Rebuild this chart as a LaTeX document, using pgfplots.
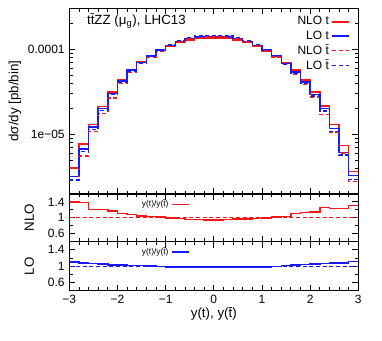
\documentclass[border=0pt]{standalone}
\usepackage{fontspec}
\setmainfont{Liberation Sans}
\usepackage{pgfplots}
\pgfplotsset{compat=1.18}
\usepackage{pgfplotstable}

\definecolor{gpred}{RGB}{255,20,20}
\definecolor{gpblue}{RGB}{25,25,255}

% bin left edges, last row repeats the last bin so the step reaches y=3
\pgfplotstableread{
x     nlot     lot      nlotb     lotb      rn    rl
-3.0  4.04e-6  3.22e-6  2.89e-6   2.93e-6   1.40  1.10
-2.8  7.76e-6  6.78e-6  5.62e-6   6.28e-6   1.38  1.08
-2.6  1.31e-5  1.22e-5  1.083e-5  1.14e-5   1.21  1.07
-2.4  2.14e-5  2.01e-5  1.77e-5   1.914e-5  1.21  1.05
-2.2  3.16e-5  3.02e-5  2.70e-5   2.93e-5   1.17  1.03
-2.0  4.42e-5  4.26e-5  3.98e-5   4.14e-5   1.11  1.03
-1.8  5.81e-5  5.70e-5  5.38e-5   5.59e-5   1.08  1.02
-1.6  7.15e-5  7.02e-5  6.81e-5   6.95e-5   1.05  1.01
-1.4  8.41e-5  8.41e-5  8.17e-5   8.41e-5   1.03  1.00
-1.2  9.64e-5  9.82e-5  9.45e-5   9.92e-5   1.02  0.99
-1.0  1.084e-4 1.11e-4  1.095e-4  1.133e-4  0.99  0.98
-0.8  1.20e-4  1.24e-4  1.224e-4  1.272e-4  0.98  0.975
-0.6  1.29e-4  1.34e-4  1.344e-4  1.374e-4  0.96  0.975
-0.4  1.35e-4  1.40e-4  1.406e-4  1.436e-4  0.96  0.975
-0.2  1.37e-4  1.42e-4  1.442e-4  1.456e-4  0.95  0.975
 0.0  1.37e-4  1.42e-4  1.442e-4  1.456e-4  0.95  0.975
 0.2  1.35e-4  1.40e-4  1.406e-4  1.436e-4  0.96  0.975
 0.4  1.29e-4  1.34e-4  1.330e-4  1.374e-4  0.97  0.975
 0.6  1.20e-4  1.24e-4  1.231e-4  1.272e-4  0.975 0.975
 0.8  1.08e-4  1.11e-4  1.102e-4  1.138e-4  0.98  0.975
 1.0  9.6e-5   9.8e-5   9.70e-5   1.0e-4    0.99  0.98
 1.2  8.34e-5  8.4e-5   8.18e-5   8.48e-5   1.02  0.99
 1.4  6.90e-5  6.78e-5  6.70e-5   6.71e-5   1.03  1.01
 1.6  5.70e-5  5.44e-5  5.14e-5   5.31e-5   1.11  1.025
 1.8  4.35e-5  4.15e-5  3.85e-5   3.99e-5   1.13  1.04
 2.0  3.16e-5  2.96e-5  2.75e-5   2.82e-5   1.15  1.05
 2.2  2.16e-5  2.01e-5  1.71e-5   1.88e-5   1.26  1.07
 2.4  1.31e-5  1.17e-5  1.065e-5  1.088e-5  1.23  1.075
 2.6  7.41e-6  6.18e-6  6.02e-6   5.72e-6   1.23  1.08
 2.8  3.69e-6  3.3e-6   2.82e-6   2.95e-6   1.31  1.12
 3.0  3.69e-6  3.3e-6   2.82e-6   2.95e-6   1.31  1.12
}\ydist

\pgfplotsset{
  gp/.style={
    scale only axis, width=216.75pt,
    xmin=-3, xmax=3, xtick={-3,...,3}, minor x tick num=4,
    tick align=inside, major tick length=4.5pt, minor tick length=2.5pt,
    axis line style={line width=0.9pt},
    every tick/.style={black, line width=0.6pt},
    tick label style={font=\fontsize{9}{9}\selectfont},
    label style={font=\fontsize{10}{10}\selectfont},
    /pgf/number format/assume math mode=true,
    legend plot pos=right, legend cell align=right,
    legend image code/.code={\draw[##1] (0pt,0pt) -- (12.5pt,0pt);},
  },
  hist/.style={const plot mark left, no marks, line width=1.1pt},
  dsh/.style={dash pattern=on 3pt off 2pt},
}

\begin{document}
\begin{tikzpicture}
% main distribution
\begin{axis}[gp, name=main, at={(0,72.55pt)}, anchor=south west, height=139.3pt,
  ymode=log, ymin=2e-6, ymax=3.05e-4,
  ytick={1e-5,1e-4}, yticklabels={1e−05,0.0001},
  minor ytick={2e-6,3e-6,4e-6,5e-6,6e-6,7e-6,8e-6,9e-6,2e-5,3e-5,4e-5,5e-5,6e-5,7e-5,8e-5,9e-5,2e-4,3e-4},
  xticklabels={},
  ylabel={dσ/dy [pb/bin]},
  ylabel style={at={(axis description cs:-0.188,0.5)}, anchor=center},
  legend style={at={(axis description cs:0.985,0.985)}, anchor=north east,
    draw=none, fill=none, font=\fontsize{9}{9}\selectfont, row sep=-1.2pt},
]
\addplot[hist, gpred] table[x=x, y=nlot] {\ydist};
\addlegendentry{NLO t}
\addplot[hist, gpblue] table[x=x, y=lot] {\ydist};
\addlegendentry{LO t}
\addplot[hist, gpred, dsh] table[x=x, y=nlotb] {\ydist};
\addlegendentry{NLO t̄}
\addplot[hist, gpblue, dsh] table[x=x, y=lotb] {\ydist};
\addlegendentry{LO t̄}
\node[anchor=north west, font=\fontsize{10}{10}\selectfont] at (rel axis cs:0.045,0.995) {tt̄ZZ (μ\textsubscript{g}), LHC13};
\node[rotate=90, anchor=west, font=\fontsize{5.5}{5.5}\selectfont, gray] at ([xshift=5.8pt, yshift=2pt]rel axis cs:1,0) {MadGraph5\_aMC@NLO};
\end{axis}

% NLO ratio
\begin{axis}[gp, name=nlo, at={(0,36.75pt)}, anchor=south west, height=35.8pt,
  ymin=0.4, ymax=1.6, ytick={0.6,1,1.4}, minor ytick={0.8,1.2},
  xticklabels={},
  ylabel={NLO},
  ylabel style={at={(axis description cs:-0.139,0.5)}, anchor=center},
  legend style={at={(axis description cs:0.43,0.99)}, anchor=north east,
    draw=none, fill=none, font=\fontsize{6.3}{6.3}\selectfont},
]
\addplot[hist, gpred] table[x=x, y=rn] {\ydist};
\addlegendentry{y(t)/y(t̄)}
\addplot[gpred, dsh, line width=1pt, forget plot] coordinates {(-3,1) (3,1)};
\end{axis}

% LO ratio
\begin{axis}[gp, name=lo, at={(0,0)}, anchor=south west, height=36.75pt,
  ymin=0.4, ymax=1.6, ytick={0.6,1,1.4}, minor ytick={0.8,1.2},
  xticklabels={−3,−2,−1,0,1,2,3},
  xlabel={y(t), y(t̄)},
  xlabel style={at={(axis description cs:0.5,-0.476)}, anchor=center},
  ylabel={LO},
  ylabel style={at={(axis description cs:-0.139,0.5)}, anchor=center},
  legend style={at={(axis description cs:0.43,0.99)}, anchor=north east,
    draw=none, fill=none, font=\fontsize{6.3}{6.3}\selectfont},
]
\addplot[hist, gpblue] table[x=x, y=rl] {\ydist};
\addlegendentry{y(t)/y(t̄)}
\addplot[gpblue, dsh, line width=1pt, forget plot] coordinates {(-3,1) (3,1)};
\end{axis}

\pgfresetboundingbox
\path[use as bounding box] (-52pt,-37pt) rectangle (234.5pt,218pt);
\end{tikzpicture}
\end{document}
